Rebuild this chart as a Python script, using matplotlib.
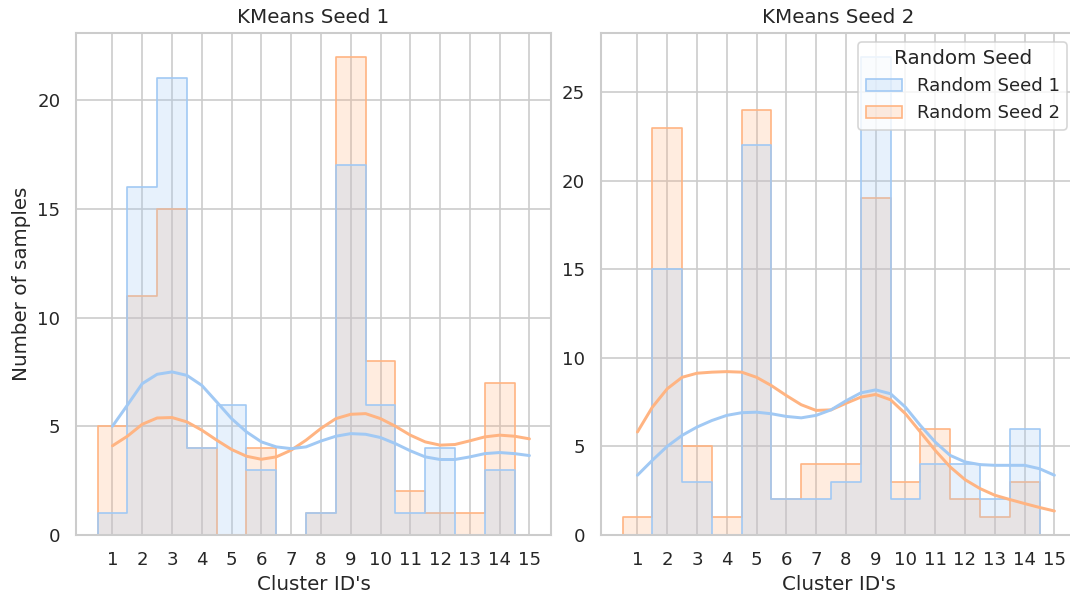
import pandas as pd
import seaborn as sns
import matplotlib.pyplot as plt

# Число образцов в каждом кластере
cluster_ids = list(range(1, 15))
tick_ids = list(range(1, 16))
seed_names = ["Random Seed 1", "Random Seed 2"]

kmeans1_seed1 = [1, 16, 21, 4, 6, 3, 0, 1, 17, 6, 1, 4, 0, 3]
kmeans1_seed2 = [5, 11, 15, 4, 0, 4, 0, 1, 22, 8, 2, 1, 1, 7]

kmeans2_seed1 = [0, 15, 3, 0, 22, 2, 2, 3, 27, 2, 4, 4, 2, 6]
kmeans2_seed2 = [1, 23, 5, 1, 24, 2, 4, 4, 19, 3, 6, 2, 1, 3]

# Сглаженные кривые плотности (в единицах числа образцов)
kde_x = [1, 1.5, 2, 2.5, 3, 3.5, 4, 4.5, 5, 5.5, 6, 6.5, 7, 7.5, 8,
         8.5, 9, 9.5, 10, 10.5, 11, 11.5, 12, 12.5, 13, 13.5, 14, 14.5, 15]

kde1_seed1 = [5.0, 5.97, 6.96, 7.39, 7.5, 7.34, 6.88, 6.12, 5.35, 4.74,
              4.28, 4.05, 3.97, 4.05, 4.32, 4.54, 4.66, 4.63, 4.48, 4.2,
              3.87, 3.59, 3.47, 3.47, 3.59, 3.74, 3.79, 3.74, 3.65]
kde1_seed2 = [4.1, 4.54, 5.09, 5.38, 5.4, 5.2, 4.82, 4.36, 3.93, 3.62,
              3.48, 3.59, 3.9, 4.36, 4.9, 5.35, 5.55, 5.58, 5.35, 5.0,
              4.59, 4.28, 4.13, 4.16, 4.33, 4.51, 4.59, 4.54, 4.42]

kde2_seed1 = [3.37, 4.21, 5.0, 5.62, 6.09, 6.46, 6.75, 6.9, 6.93, 6.84,
              6.69, 6.61, 6.75, 7.06, 7.57, 8.02, 8.19, 7.97, 7.21, 6.18,
              5.24, 4.49, 4.12, 3.97, 3.93, 3.93, 3.93, 3.74, 3.37]
kde2_seed2 = [5.81, 7.21, 8.25, 8.9, 9.13, 9.19, 9.22, 9.19, 8.9, 8.43,
              7.87, 7.35, 7.03, 7.06, 7.43, 7.78, 7.93, 7.63, 6.84, 5.81,
              4.77, 3.84, 3.12, 2.62, 2.24, 2.0, 1.77, 1.55, 1.35]

titles = ["KMeans Seed 1", "KMeans Seed 2"]


def make_frame(counts1, counts2):
    return pd.DataFrame({
        "cluster": cluster_ids * 2,
        "count": counts1 + counts2,
        "Random Seed": [seed_names[0]] * len(cluster_ids)
        + [seed_names[1]] * len(cluster_ids),
    })


frames = [make_frame(kmeans1_seed1, kmeans1_seed2),
          make_frame(kmeans2_seed1, kmeans2_seed2)]
kdes = [(kde1_seed1, kde1_seed2), (kde2_seed1, kde2_seed2)]

sns.set_theme(style="whitegrid", palette="pastel")
colors = sns.color_palette("pastel")

fig, axes = plt.subplots(ncols=2, figsize=(1070 / 119, 597 / 119), dpi=119)
fig.subplots_adjust(left=0.071, right=1.0056, bottom=0.104, top=0.945,
                    wspace=0.105)

for i, (ax, df) in enumerate(zip(axes, frames)):
    sns.histplot(data=df, x="cluster", weights="count", hue="Random Seed",
                 discrete=True, element="step", ax=ax, legend=(i == 1))
    # оранжевая кривая снизу, голубая поверх
    ax.plot(kde_x, kdes[i][1], color=colors[1], linewidth=1.8)
    ax.plot(kde_x, kdes[i][0], color=colors[0], linewidth=1.8)
    ax.set_xticks(tick_ids)
    ax.set_title(titles[i])
    ax.set_xlabel("Cluster ID's")
    ax.set_ylabel("Number of samples" if i == 0 else "")

sns.move_legend(axes[1], "upper right")

fig.savefig("out.png", dpi=119)
